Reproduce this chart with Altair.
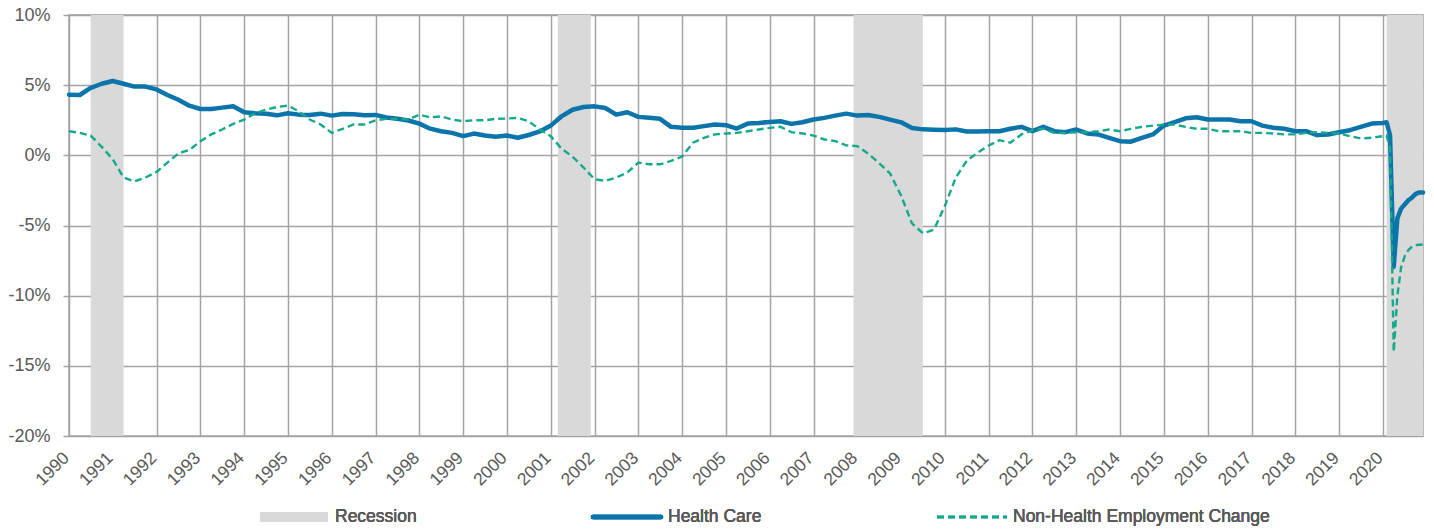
import altair as alt
import pandas as pd

# ---------------- data ----------------
years = list(range(1990, 2020))

# Quarterly readings (Jan, Apr, Jul, Oct) of year-over-year change, %
health_q = [
    4.32, 4.30, 4.80, 5.10,   # 1990
    5.30, 5.10, 4.90, 4.90,   # 1991
    4.70, 4.30, 3.96, 3.54,   # 1992
    3.30, 3.30, 3.40, 3.50,   # 1993
    3.07, 3.00, 2.97, 2.85,   # 1994
    3.00, 2.90, 2.88, 2.97,   # 1995
    2.83, 2.95, 2.92, 2.85,   # 1996
    2.88, 2.70, 2.60, 2.48,   # 1997
    2.26, 1.90, 1.72, 1.60,   # 1998
    1.37, 1.55, 1.41, 1.32,   # 1999
    1.41, 1.25, 1.45, 1.70,   # 2000
    2.12, 2.78, 3.25, 3.44,   # 2001
    3.49, 3.37, 2.90, 3.07,   # 2002
    2.74, 2.67, 2.60, 2.03,   # 2003
    1.96, 1.96, 2.08, 2.20,   # 2004
    2.15, 1.91, 2.26, 2.31,   # 2005
    2.38, 2.43, 2.24, 2.36,   # 2006
    2.55, 2.67, 2.83, 2.97,   # 2007
    2.83, 2.88, 2.74, 2.54,   # 2008
    2.35, 1.95, 1.85, 1.82,   # 2009
    1.80, 1.85, 1.70, 1.70,   # 2010
    1.72, 1.72, 1.89, 2.03,   # 2011
    1.72, 2.03, 1.72, 1.65,   # 2012
    1.84, 1.56, 1.49, 1.25,   # 2013
    1.01, 0.97, 1.25, 1.49,   # 2014
    2.12, 2.36, 2.64, 2.71,   # 2015
    2.55, 2.55, 2.55, 2.43,   # 2016
    2.43, 2.12, 1.96, 1.89,   # 2017
    1.72, 1.72, 1.44, 1.49,   # 2018
    1.65, 1.79, 2.03, 2.26,   # 2019
]
nonhealth_q = [
    1.72, 1.60, 1.41, 0.60,   # 1990
    -0.28, -1.58, -1.86, -1.58,  # 1991
    -1.18, -0.52, 0.14, 0.38,  # 1992
    1.00, 1.49, 1.84, 2.24,   # 1993
    2.55, 3.00, 3.25, 3.44,   # 1994
    3.54, 3.14, 2.55, 2.20,   # 1995
    1.60, 1.89, 2.20, 2.20,   # 1996
    2.50, 2.60, 2.60, 2.55,   # 1997
    2.90, 2.70, 2.78, 2.55,   # 1998
    2.43, 2.50, 2.50, 2.60,   # 1999
    2.62, 2.67, 2.43, 1.84,   # 2000
    1.37, 0.47, -0.09, -0.87,  # 2001
    -1.70, -1.82, -1.58, -1.23,  # 2002
    -0.52, -0.64, -0.64, -0.40,  # 2003
    -0.09, 0.90, 1.25, 1.49,  # 2004
    1.56, 1.60, 1.72, 1.84,   # 2005
    1.96, 2.03, 1.65, 1.56,   # 2006
    1.41, 1.13, 1.01, 0.71,   # 2007
    0.66, 0.12, -0.55, -1.30,  # 2008
    -2.88, -4.85, -5.55, -5.30,  # 2009
    -3.60, -1.60, -0.40, 0.19,  # 2010
    0.70, 1.08, 0.90, 1.49,   # 2011
    1.79, 1.89, 1.60, 1.60,   # 2012
    1.65, 1.65, 1.72, 1.84,   # 2013
    1.72, 1.89, 2.03, 2.12,   # 2014
    2.19, 2.19, 2.03, 1.89,   # 2015
    1.89, 1.72, 1.72, 1.72,   # 2016
    1.60, 1.60, 1.56, 1.49,   # 2017
    1.49, 1.60, 1.65, 1.60,   # 2018
    1.56, 1.37, 1.20, 1.25,   # 2019
]

# Monthly readings for 2020 (Jan..Dec)
health_2020 = [2.31, 2.36, 1.45, -7.95, -4.5, -3.8, -3.5, -3.2, -3.0, -2.75, -2.64, -2.64]
nonhealth_2020 = [1.37, 1.42, 0.50, -14.0, -10.0, -8.0, -7.2, -6.75, -6.5, -6.4, -6.37, -6.35]

rec_start = ["1990-07-01", "2001-03-01", "2007-12-01", "2020-02-01"]
rec_end = ["1991-04-01", "2001-12-01", "2009-07-01", "2020-12-01"]

# --------------- tables ----------------
q_dates = [f"{y}-{m:02d}-01T00:00:00" for y in years for m in (1, 4, 7, 10)]
m_dates = [f"2020-{m:02d}-01T00:00:00" for m in range(1, 13)]
dates = q_dates + m_dates

df = pd.DataFrame({
    "date": dates + dates,
    "value": health_q + health_2020 + nonhealth_q + nonhealth_2020,
    "series": ["Health Care"] * len(dates) + ["Non-Health Employment Change"] * len(dates),
})
rec_df = pd.DataFrame({
    "start": [s + "T00:00:00" for s in rec_start],
    "end": [e + "T00:00:00" for e in rec_end],
})

W, H = 1354, 421
FONT = "Liberation Sans, Arial, sans-serif"
GREY_TXT = "#595959"
GRID = "#a3a3a3"
BLUE = "#0b74aa"
TEAL = "#14a98b"

xscale = alt.Scale(domain=[alt.DateTime(year=1990, month=1, date=1),
                           alt.DateTime(year=2020, month=12, date=1)])
yscale = alt.Scale(domain=[-20, 10], nice=False)

xaxis = alt.Axis(title=None, format="%Y", tickCount={"interval": "year", "step": 1},
                 labelAngle=-45, labelAlign="right", labelBaseline="middle",
                 labelPadding=19, labelOffset=-3, ticks=False, domain=False, grid=True,
                 labelFontSize=17.5, labelColor=GREY_TXT, labelOverlap=False)
yaxis = alt.Axis(title=None, values=[-20, -15, -10, -5, 0, 5, 10],
                 labelExpr="datum.value + '%'", tickSize=6, tickColor=GRID,
                 tickWidth=1.5, labelPadding=13, domain=False, grid=True,
                 labelFontSize=18, labelColor=GREY_TXT)

rec = alt.Chart(rec_df).mark_rect(color="#d9d9d9").encode(
    x=alt.X("start:T", scale=xscale, axis=xaxis),
    x2="end:T",
    y=alt.value(0),
    y2=alt.value(H),
)

health = alt.Chart(df).transform_filter(alt.datum.series == "Health Care").mark_line(
    color=BLUE, strokeWidth=4.5, strokeJoin="round", strokeCap="round"
).encode(
    x=alt.X("date:T", scale=xscale, axis=xaxis),
    y=alt.Y("value:Q", scale=yscale, axis=yaxis),
)

nonhealth = alt.Chart(df).transform_filter(
    alt.datum.series == "Non-Health Employment Change"
).mark_line(color=TEAL, strokeWidth=2.4, strokeDash=[7, 4]).encode(
    x=alt.X("date:T", scale=xscale, axis=xaxis),
    y=alt.Y("value:Q", scale=yscale, axis=yaxis),
)

# --------------- manual legend ----------------
LY = 502
leg_rect = alt.Chart(rec_df).mark_rect(color="#d9d9d9").encode(
    x=alt.value(191), x2=alt.value(259), y=alt.value(LY - 5), y2=alt.value(LY + 5)
)
leg_health = alt.Chart(rec_df).mark_rule(color=BLUE, strokeWidth=4.5, strokeCap="round").encode(
    x=alt.value(524), x2=alt.value(592), y=alt.value(LY)
)
leg_non = alt.Chart(rec_df).mark_rule(color=TEAL, strokeWidth=2.4, strokeDash=[7, 4]).encode(
    x=alt.value(868), x2=alt.value(938), y=alt.value(LY)
)
txt_kw = dict(align="left", baseline="middle", fontSize=17.5, color=GREY_TXT, font=FONT)
leg_t1 = alt.Chart(rec_df).mark_text(text="Recession", **txt_kw).encode(
    x=alt.value(266), y=alt.value(LY))
leg_t2 = alt.Chart(rec_df).mark_text(text="Health Care", **txt_kw).encode(
    x=alt.value(599), y=alt.value(LY))
leg_t3 = alt.Chart(rec_df).mark_text(text="Non-Health Employment Change", **txt_kw).encode(
    x=alt.value(944), y=alt.value(LY))

chart = alt.layer(
    rec, health, nonhealth, leg_rect, leg_health, leg_non, leg_t1, leg_t2, leg_t3
).properties(
    width=W, height=H,
    autosize=alt.AutoSizeParams(type="none"),
    padding={"left": 61, "top": 7, "right": 3, "bottom": 92},
).configure(
    font=FONT,
).configure_axis(
    gridColor=GRID, gridWidth=1.5, gridOpacity=1, labelFont=FONT,
).configure_view(
    stroke=GRID, strokeWidth=1.5
)

chart.save("out.html", embed_options={"renderer": "svg", "actions": False})
